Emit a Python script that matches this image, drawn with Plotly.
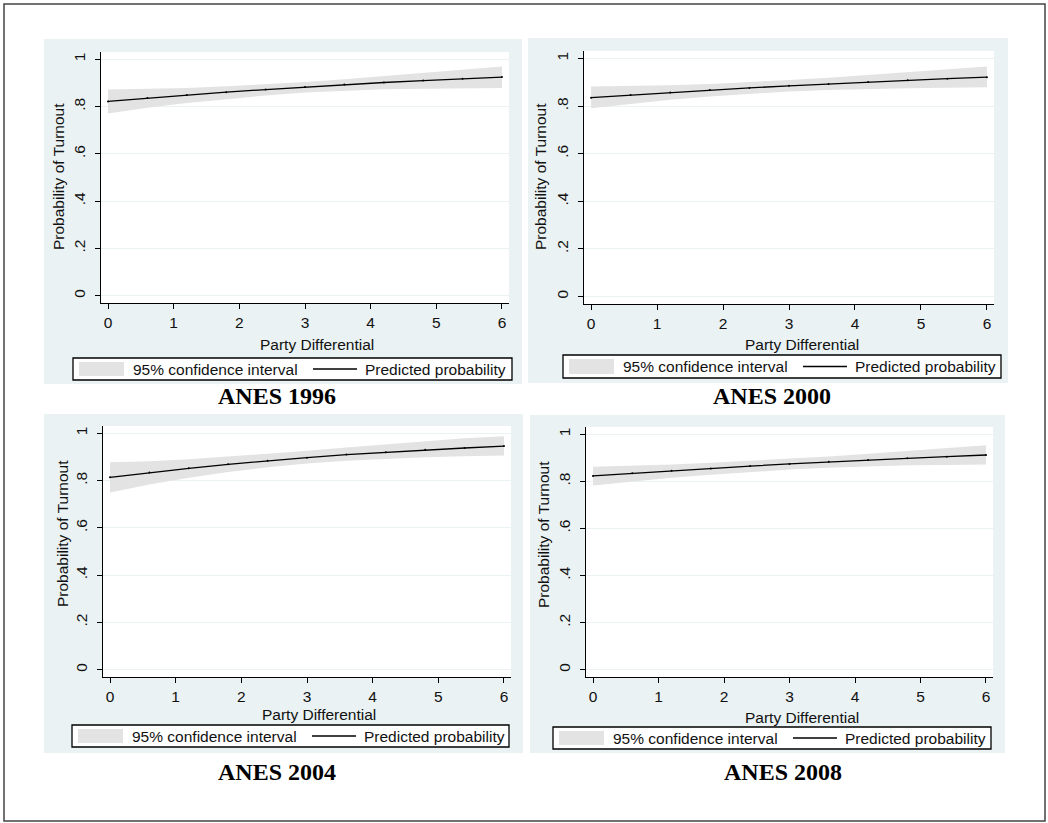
import plotly.graph_objects as go

W, H = 1048, 823

# ---------------- data ----------------
party_diff = [0, 0.6, 1.2, 1.8, 2.4, 3.0, 3.6, 4.2, 4.8, 5.4, 6.0]
x_ticks = [0, 1, 2, 3, 4, 5, 6]
y_ticks = [0, 0.2, 0.4, 0.6, 0.8, 1.0]
y_tick_labels = ["0", ".2", ".4", ".6", ".8", "1"]
panel_titles = ["ANES 1996", "ANES 2000", "ANES 2004", "ANES 2008"]

pred_1996 = [0.822, 0.836, 0.849, 0.861, 0.872, 0.883, 0.893, 0.902, 0.910, 0.918, 0.925]
low_1996 = [0.771, 0.795, 0.815, 0.832, 0.847, 0.860, 0.868, 0.873, 0.876, 0.878, 0.879]
high_1996 = [0.872, 0.875, 0.879, 0.886, 0.894, 0.904, 0.916, 0.929, 0.943, 0.956, 0.970]

pred_2000 = [0.835, 0.846, 0.857, 0.867, 0.876, 0.885, 0.893, 0.901, 0.908, 0.915, 0.921]
low_2000 = [0.791, 0.810, 0.826, 0.840, 0.852, 0.861, 0.867, 0.872, 0.875, 0.877, 0.879]
high_2000 = [0.882, 0.884, 0.887, 0.893, 0.900, 0.909, 0.919, 0.930, 0.942, 0.954, 0.966]

pred_2004 = [0.814, 0.834, 0.852, 0.869, 0.884, 0.897, 0.910, 0.920, 0.930, 0.938, 0.946]
low_2004 = [0.750, 0.783, 0.812, 0.836, 0.856, 0.872, 0.884, 0.893, 0.899, 0.903, 0.906]
high_2004 = [0.878, 0.882, 0.890, 0.901, 0.913, 0.926, 0.940, 0.954, 0.967, 0.979, 0.988]

pred_2008 = [0.823, 0.834, 0.845, 0.855, 0.865, 0.874, 0.883, 0.891, 0.898, 0.905, 0.912]
low_2008 = [0.783, 0.800, 0.815, 0.828, 0.840, 0.850, 0.858, 0.864, 0.868, 0.870, 0.872]
high_2008 = [0.862, 0.866, 0.872, 0.879, 0.887, 0.896, 0.906, 0.917, 0.929, 0.941, 0.953]

series = [
    (pred_1996, low_1996, high_1996),
    (pred_2000, low_2000, high_2000),
    (pred_2004, low_2004, high_2004),
    (pred_2008, low_2008, high_2008),
]

# ---------------- layout geometry (pixels) ----------------
plot_px = [
    (101, 52, 509, 303),
    (584, 51, 994, 304),
    (103, 426, 511, 677),
    (586, 427, 993, 677),
]
panel_bg_px = [
    (44, 39, 522, 384),
    (528, 38, 1008, 383),
    (44, 414, 523, 753),
    (530, 415, 1005, 753),
]
legend_px = [
    (73, 358, 512, 380),
    (563, 355, 1001, 378),
    (72, 725, 509, 747),
    (553, 727, 991, 749),
]
xtitle_px = [(317, 344), (802, 344), (319, 714), (802, 717)]
ytitle_px = [(59, 177), (541, 177), (62, 534), (543, 535)]
ptitle_px = [(277, 396), (772, 396), (277, 772), (783, 772)]

BAND = "#E3E3E3"
PANEL = "#EAF2F3"
FONT = "Liberation Sans"
FS = 15.5
TXT = "#111111"


def px(x):
    return x / W


def py(y):
    return 1 - y / H


fig = go.Figure()
shapes = []
annotations = []
layout = {}

for i, (pred, lo, hi) in enumerate(series):
    n = "" if i == 0 else str(i + 1)
    xa, ya = "x" + n, "y" + n
    fig.add_trace(go.Scatter(x=party_diff, y=lo, mode="lines", line=dict(width=0, color=BAND),
                             xaxis=xa, yaxis=ya, showlegend=False, hoverinfo="skip"))
    fig.add_trace(go.Scatter(x=party_diff, y=hi, mode="lines", line=dict(width=0, color=BAND),
                             fill="tonexty", fillcolor=BAND,
                             xaxis=xa, yaxis=ya, showlegend=False, hoverinfo="skip"))
    fig.add_trace(go.Scatter(x=party_diff, y=pred, mode="lines+markers",
                             line=dict(width=1.3, color="black"),
                             marker=dict(size=2, color="black"),
                             xaxis=xa, yaxis=ya, showlegend=False))

    l, t, r, b = plot_px[i]
    layout["xaxis" + n] = dict(
        domain=[px(l), px(r)], anchor=ya, range=[-0.107, 6.107],
        tickvals=x_ticks, ticks="outside", ticklen=5, tickwidth=1.2, tickcolor="black",
        showline=True, linecolor="black", linewidth=1.3, showgrid=False, zeroline=False,
        tickfont=dict(family=FONT, size=FS, color=TXT),
    )
    layout["yaxis" + n] = dict(
        domain=[py(b), py(t)], anchor=xa, range=[-0.031, 1.031],
        tickvals=y_ticks, ticktext=y_tick_labels, tickangle=-90,
        ticks="outside", ticklen=5, tickwidth=1.2, tickcolor="black",
        showline=True, linecolor="black", linewidth=1.3,
        showgrid=True, gridcolor=PANEL, gridwidth=1, zeroline=False,
        ticklabelstandoff=4,
        tickfont=dict(family=FONT, size=FS, color=TXT),
    )

    bl, bt, br, bb = panel_bg_px[i]
    shapes.append(dict(type="rect", xref="paper", yref="paper", layer="below",
                       x0=px(bl), x1=px(br), y0=py(bb), y1=py(bt),
                       fillcolor=PANEL, line=dict(width=0)))
    shapes.append(dict(type="rect", xref="paper", yref="paper", layer="below",
                       x0=px(l), x1=px(r), y0=py(b), y1=py(t),
                       fillcolor="white", line=dict(width=0)))

    gl, gt, gr, gb = legend_px[i]
    cy = (gt + gb) / 2
    shapes.append(dict(type="rect", xref="paper", yref="paper",
                       x0=px(gl), x1=px(gr), y0=py(gb), y1=py(gt),
                       fillcolor="white", line=dict(width=1.3, color="black")))
    shapes.append(dict(type="rect", xref="paper", yref="paper",
                       x0=px(gl + 6), x1=px(gl + 51), y0=py(gb - 4), y1=py(gt + 4),
                       fillcolor=BAND, line=dict(width=0)))
    shapes.append(dict(type="line", xref="paper", yref="paper",
                       x0=px(gl + 240), x1=px(gl + 284), y0=py(cy), y1=py(cy),
                       line=dict(width=1.3, color="black")))
    annotations.append(dict(text="95% confidence interval", xref="paper", yref="paper",
                            x=px(gl + 58), y=py(cy), xanchor="left", yanchor="middle",
                            showarrow=False, font=dict(family=FONT, size=FS, color=TXT)))
    annotations.append(dict(text="Predicted probability", xref="paper", yref="paper",
                            x=px(gl + 290), y=py(cy), xanchor="left", yanchor="middle",
                            showarrow=False, font=dict(family=FONT, size=FS, color=TXT)))

    tx, ty = xtitle_px[i]
    annotations.append(dict(text="Party Differential", xref="paper", yref="paper",
                            x=px(tx), y=py(ty), xanchor="center", yanchor="middle",
                            showarrow=False, font=dict(family=FONT, size=FS, color=TXT)))
    tx, ty = ytitle_px[i]
    annotations.append(dict(text="Probability of Turnout", xref="paper", yref="paper",
                            x=px(tx), y=py(ty), xanchor="center", yanchor="middle",
                            textangle=-90, showarrow=False,
                            font=dict(family=FONT, size=FS, color=TXT)))
    tx, ty = ptitle_px[i]
    annotations.append(dict(text="<b>" + panel_titles[i] + "</b>", xref="paper", yref="paper",
                            x=px(tx), y=py(ty), xanchor="center", yanchor="middle",
                            showarrow=False,
                            font=dict(family="Liberation Serif", size=24, color="black")))

shapes.append(dict(type="rect", xref="paper", yref="paper",
                   x0=px(4), x1=px(1045), y0=py(821), y1=py(4),
                   fillcolor="rgba(0,0,0,0)", line=dict(width=1.5, color="#444444")))

fig.update_layout(
    width=W, height=H,
    margin=dict(l=0, r=0, t=0, b=0),
    paper_bgcolor="white", plot_bgcolor="white",
    showlegend=False,
    shapes=shapes, annotations=annotations,
    **layout,
)

fig.write_html("out.html",
               config={"displayModeBar": False},
               post_script="document.body.style.margin='0';document.body.style.overflow='hidden';")
